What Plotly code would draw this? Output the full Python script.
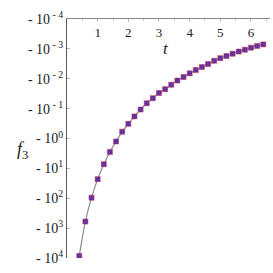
import plotly.graph_objects as go

t = [0.4, 0.6, 0.8, 1.0, 1.2, 1.4, 1.6, 1.8, 2.0, 2.2, 2.4, 2.6, 2.8, 3.0, 3.2, 3.4,
     3.6, 3.8, 4.0, 4.2, 4.4, 4.6, 4.8, 5.0, 5.2, 5.4, 5.6, 5.8, 6.0, 6.2, 6.4]
log_abs_f3 = [3.93, 2.78, 1.98, 1.36, 0.86, 0.45, 0.10, -0.23, -0.49, -0.74, -0.97,
              -1.18, -1.35, -1.52, -1.65, -1.80, -1.94, -2.06, -2.18, -2.29, -2.39,
              -2.49, -2.60, -2.69, -2.76, -2.84, -2.91, -2.97, -3.04, -3.10, -3.15]
f3 = [-(10 ** v) for v in log_abs_f3]

x_ticks = [1, 2, 3, 4, 5, 6]
y_tick_exps = [-4, -3, -2, -1, 0, 1, 2, 3, 4]
y_tick_vals = [10 ** e for e in y_tick_exps]
y_tick_text = ["- 10<sup>%d</sup>" % e if e >= 0 else "- 10<sup> - %d</sup>" % (-e)
               for e in y_tick_exps]

mag = [-v for v in f3]

fig = go.Figure()
fig.add_trace(go.Scatter(x=t, y=mag, mode="lines",
                         line=dict(color="#8c8c8c", width=1.2, shape="spline"),
                         hoverinfo="skip", showlegend=False))
fig.add_trace(go.Scatter(x=t, y=mag, mode="markers",
                         marker=dict(symbol="square-x", size=5, color="#3030b8",
                                     line=dict(color="#d03a60", width=0.6)),
                         showlegend=False))

font = "Liberation Serif"
fig.update_layout(
    template="none",
    width=273, height=273,
    margin=dict(l=67, r=3, t=19, b=15),
    paper_bgcolor="white", plot_bgcolor="white",
    font=dict(family=font, size=12, color="#222222"),
    xaxis=dict(range=[0, 6.62], side="top", tickvals=x_ticks, automargin=False,
               ticklabelposition="outside", ticklabelstandoff=-24,
               ticks="inside", ticklen=3,
               tickcolor="#bbbbbb", showline=True, linecolor="#888888", linewidth=1,
               showgrid=False, zeroline=False,
               minor=dict(dtick=0.5, ticks="inside", ticklen=2, tickcolor="#cccccc"),
               tickfont=dict(family=font, size=13)),
    yaxis=dict(type="log", range=[4.0, -4.0], tickvals=y_tick_vals, ticktext=y_tick_text,
               automargin=False,
               ticks="inside", ticklen=3, tickcolor="#bbbbbb",
               showline=True, linecolor="#555555", linewidth=1,
               showgrid=False, zeroline=False, tickfont=dict(family=font, size=14)),
)
fig.add_annotation(text="<i>t</i>", xref="paper", yref="paper",
                   x=(166 - 67) / 203, y=1 - (48 - 19) / 239,
                   xanchor="center", yanchor="middle",
                   showarrow=False, font=dict(family=font, size=17))
fig.add_annotation(text="<i>f</i><sub>3</sub>", xref="paper", yref="paper",
                   x=(22 - 67) / 203, y=1 - (150 - 19) / 239,
                   xanchor="center", yanchor="middle",
                   showarrow=False, font=dict(family=font, size=18))
fig.write_html("out.html", config={"displayModeBar": False},
               post_script="document.body.style.margin='0';document.body.style.overflow='hidden';")
